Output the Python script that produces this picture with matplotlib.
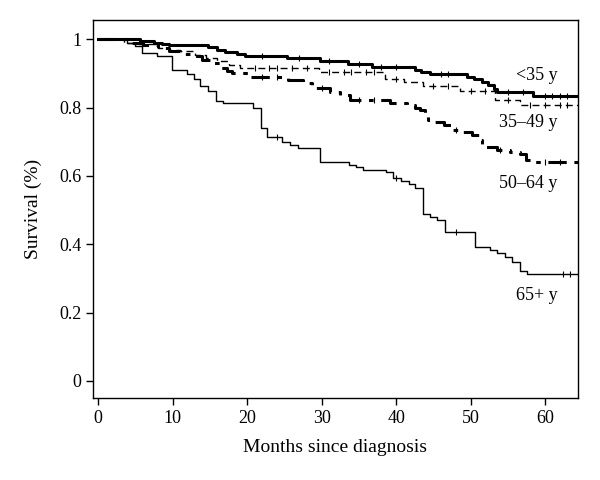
"""
Kaplan-Meier survival by age group at diagnosis
"""

import numpy as np
import matplotlib
matplotlib.use('Agg')
import matplotlib.pyplot as plt

plt.rcParams['font.family'] = ['Liberation Serif', 'DejaVu Serif']

# Step curves: event times (months) and survival after each step
t_lt35 = [0, 5.6, 7.5, 8.5, 9.5, 14.8, 15.9, 17.0, 18.6, 19.7, 25.3, 29.8, 33.6, 36.7,
          42.5, 43.4, 44.6, 49.5, 50.4, 51.5, 52.4, 53.1, 53.5, 58.4]
s_lt35 = [1.0, 0.995, 0.99, 0.985, 0.982, 0.977, 0.97, 0.963, 0.958, 0.951, 0.945, 0.937,
          0.929, 0.919, 0.911, 0.905, 0.898, 0.89, 0.883, 0.875, 0.867, 0.855, 0.846, 0.833]

t_35_49 = [0, 3.5, 5.5, 8.0, 9.5, 11.0, 13.0, 14.5, 16.0, 17.5, 19.0, 29.6, 38.5, 41.0,
           43.6, 48.6, 53.3, 56.6]
s_35_49 = [1.0, 0.99, 0.985, 0.975, 0.97, 0.965, 0.955, 0.945, 0.935, 0.925, 0.917, 0.905,
           0.885, 0.875, 0.863, 0.849, 0.822, 0.807]

t_50_64 = [0, 4.0, 6.0, 8.0, 9.5, 11.0, 12.5, 14.0, 15.5, 16.5, 17.3, 18.0, 20.4, 25.5,
           27.5, 28.7, 31.1, 32.5, 33.8, 39.2, 41.4, 42.6, 43.2, 43.9, 44.3, 45.0, 46.4,
           47.5, 49.0, 50.2, 51.3, 51.5, 53.5, 55.3, 56.6, 57.5, 58.4]
s_50_64 = [1.0, 0.99, 0.983, 0.975, 0.965, 0.958, 0.95, 0.94, 0.93, 0.915, 0.908, 0.902,
           0.89, 0.88, 0.872, 0.858, 0.846, 0.836, 0.822, 0.814, 0.807, 0.80, 0.792, 0.778,
           0.763, 0.758, 0.749, 0.734, 0.729, 0.719, 0.705, 0.685, 0.677, 0.67, 0.664,
           0.646, 0.641]

t_65 = [0, 3.85, 5.0, 5.9, 7.9, 9.9, 11.9, 12.9, 13.7, 14.8, 15.8, 16.8, 20.8, 21.8,
        22.7, 24.7, 25.8, 26.8, 29.8, 33.7, 34.6, 35.6, 38.7, 39.6, 40.6, 41.7, 42.6,
        43.6, 44.6, 45.5, 46.6, 50.6, 52.6, 53.6, 54.6, 55.6, 56.6, 57.6]
s_65 = [1.0, 0.99, 0.98, 0.96, 0.952, 0.911, 0.897, 0.885, 0.862, 0.848, 0.82, 0.813,
        0.80, 0.739, 0.714, 0.698, 0.69, 0.682, 0.64, 0.633, 0.625, 0.617, 0.61, 0.593,
        0.585, 0.576, 0.566, 0.488, 0.48, 0.471, 0.435, 0.391, 0.383, 0.373, 0.363,
        0.347, 0.323, 0.312]

# Censoring times (tick marks)
c_lt35 = [22, 27, 31, 35, 38, 40, 46, 47, 55, 57, 60, 61, 62, 63]
c_35_49 = [21, 23, 24, 26, 28, 31, 33, 34, 36, 37, 40, 45, 47, 50, 52, 55, 58, 60, 62, 63]
c_50_64 = [22, 24, 30, 35, 37, 48, 54, 60, 62]
c_65 = [24, 40, 48, 62.4, 63.4]

group_names = ['<35 y', '35\u201349 y', '50\u201364 y', '65+ y']
label_x = [61.7, 61.7, 61.7, 61.7]
label_y = [0.895, 0.757, 0.579, 0.251]

followup_end = 65


def step_value(times, surv, t):
    idx = np.searchsorted(times, t, side='right') - 1
    return np.asarray(surv)[idx]


fig = plt.figure(figsize=(6, 4.8), dpi=100)
ax = fig.add_axes([0.155, 0.171, 0.808, 0.787])

styles = [
    dict(color='black', linewidth=2.2, linestyle='-'),
    dict(color='black', linewidth=1.0, linestyle=(0, (5, 3))),
    dict(color='black', linewidth=2.2, linestyle=(0, (6, 2.5, 1.5, 2.5))),
    dict(color='black', linewidth=1.0, linestyle='-'),
]

curves = [(t_lt35, s_lt35, c_lt35), (t_35_49, s_35_49, c_35_49),
          (t_50_64, s_50_64, c_50_64), (t_65, s_65, c_65)]

for (t, s, c), st in zip(curves, styles):
    ax.step(t + [followup_end], s + [s[-1]], where='post', **st)
    ax.plot(c, step_value(t, s, c), linestyle='none', marker='|',
            markersize=4, markeredgewidth=0.8, color='black')

for name, x, y in zip(group_names, label_x, label_y):
    ax.text(x, y, name, ha='right', va='center', fontsize=13)

ax.set_xlim(-0.7, 64.4)
ax.set_ylim(-0.05, 1.056)
ax.set_xticks(range(0, 61, 10))
ax.set_yticks([0, 0.2, 0.4, 0.6, 0.8, 1.0])
ax.set_yticklabels(['0', '0.2', '0.4', '0.6', '0.8', '1'])
ax.tick_params(direction='out', length=5, width=1, labelsize=13)
for sp in ax.spines.values():
    sp.set_linewidth(1)

ax.set_xlabel('Months since diagnosis', fontsize=14, labelpad=9)
ax.set_ylabel('Survival (%)', fontsize=14, labelpad=12)

plt.savefig('out.png', dpi=100)
plt.close(fig)
